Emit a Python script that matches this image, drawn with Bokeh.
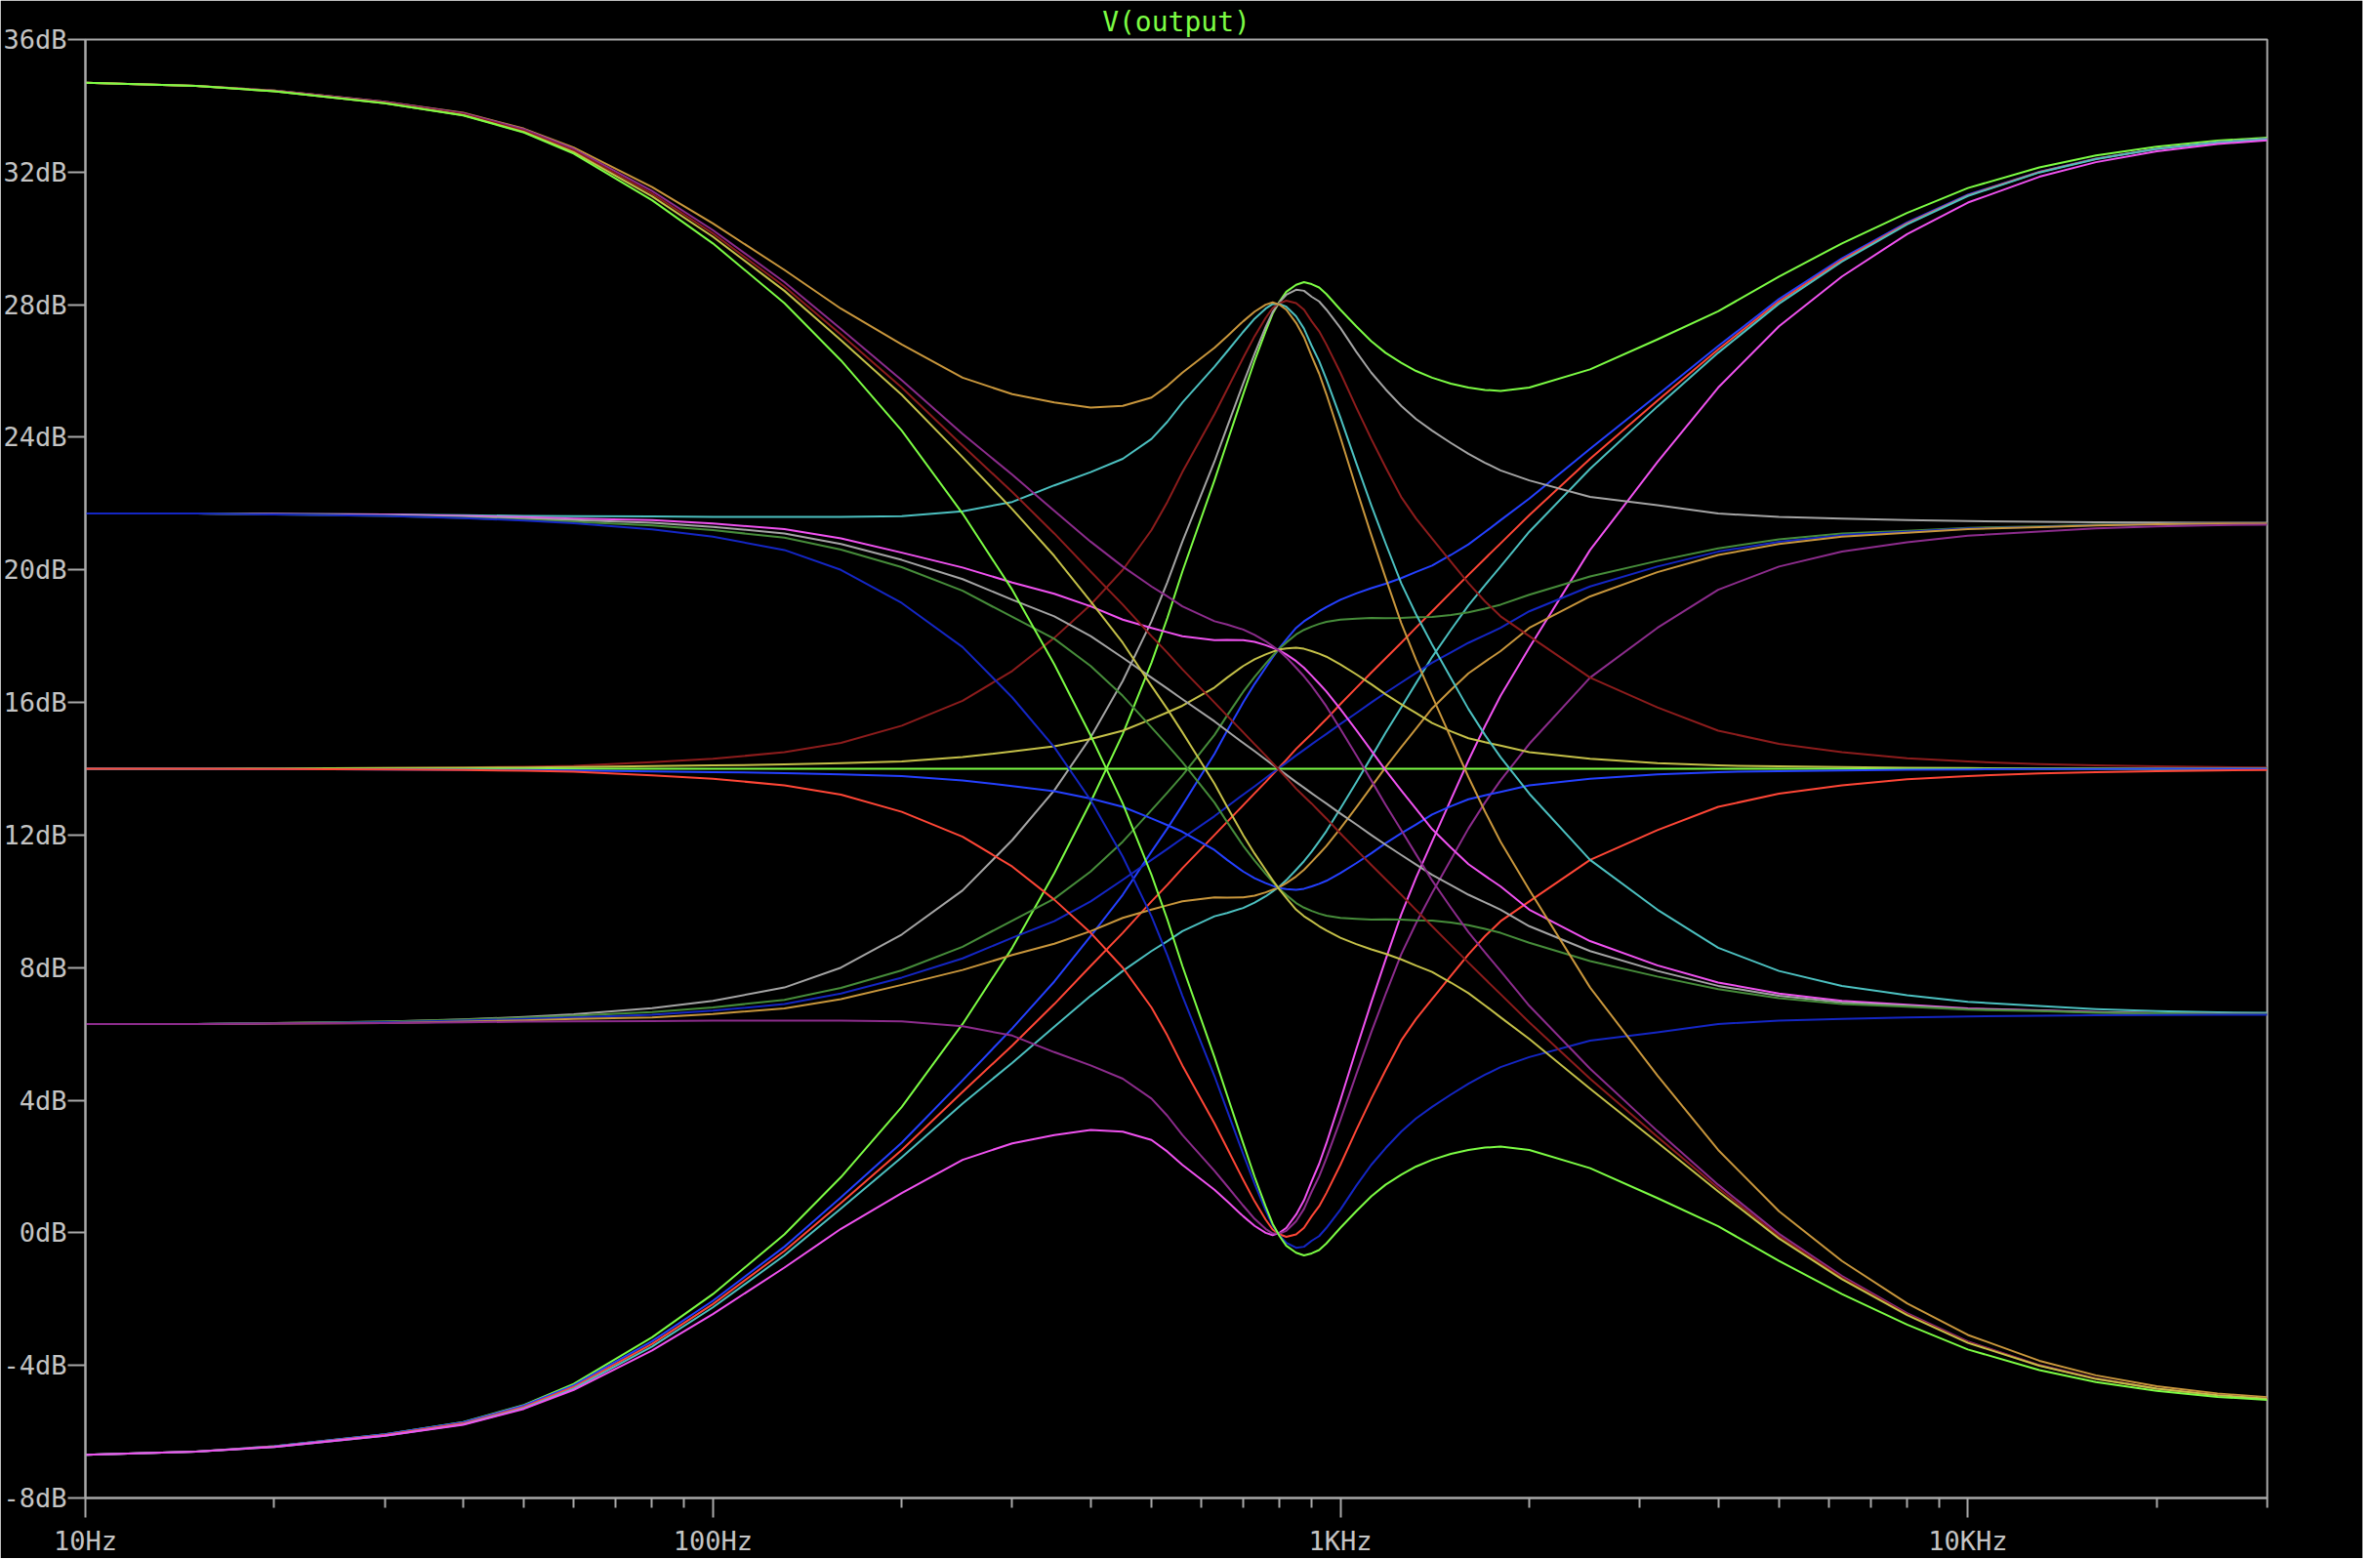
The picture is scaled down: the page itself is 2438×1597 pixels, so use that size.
from bokeh.plotting import figure
from bokeh.models import Range1d, FixedTicker, PrintfTickFormatter, CustomJSTickFormatter
from bokeh.embed import file_html
from bokeh.resources import INLINE

# ---------------- data ----------------
FREQ_HZ = [
    10, 15, 20, 30, 40, 50, 60, 80, 100,
    130, 160, 200, 250, 300, 350, 400, 450, 500,
    530, 560, 630, 660, 700, 730, 760, 780, 800,
    820, 850, 875, 900, 925, 950, 1000, 1060, 1120,
    1180, 1250, 1320, 1400, 1500, 1600, 1700, 1800, 2000,
    2500, 3200, 4000, 5000, 6300, 8000, 10000, 13000, 16000,
    20000, 25000, 30000]

# steps 1..5 : bass cut / treble boost, mid +14 .. -14 dB
step01 = [-6.7, -6.6, -6.44, -6.08, -5.71, -5.19, -4.56, -3.15, -1.85,
          -0.05, 1.68, 3.8, 6.3, 8.6, 10.85, 13.0, 15.05, 17.2,
          18.55, 19.95, 22.7, 23.85, 25.3, 26.31, 27.2, 27.73, 28.1,
          28.39, 28.6, 28.68, 28.62, 28.52, 28.32, 27.85, 27.35, 26.9,
          26.55, 26.25, 26.0, 25.8, 25.62, 25.5, 25.43, 25.4, 25.5,
          26.05, 26.95, 27.8, 28.85, 29.85, 30.77, 31.52, 32.14, 32.5,
          32.77, 32.95, 33.04]
step02 = [-6.7, -6.6, -6.44, -6.08, -5.72, -5.21, -4.6, -3.27, -2.05,
          -0.42, 1.07, 2.72, 4.6, 6.17, 7.58, 8.95, 10.2, 11.5,
          12.2, 12.9, 14.45, 15.15, 16.0, 16.56, 17.05, 17.36, 17.65,
          17.9, 18.25, 18.45, 18.6, 18.75, 18.88, 19.1, 19.29, 19.45,
          19.58, 19.75, 19.94, 20.13, 20.45, 20.77, 21.14, 21.5, 22.15,
          23.65, 25.27, 26.75, 28.17, 29.4, 30.48, 31.32, 32.01, 32.41,
          32.7, 32.9, 33.0]
step03 = [-6.7, -6.6, -6.45, -6.1, -5.75, -5.25, -4.65, -3.35, -2.15,
          -0.55, 0.9, 2.5, 4.25, 5.65, 6.9, 8.05, 9.05, 10.0,
          10.5, 11.0, 12.0, 12.4, 12.9, 13.26, 13.6, 13.83, 14.05,
          14.27, 14.6, 14.83, 15.05, 15.28, 15.5, 15.95, 16.44, 16.9,
          17.33, 17.8, 18.26, 18.75, 19.32, 19.85, 20.34, 20.8, 21.65,
          23.35, 25.1, 26.65, 28.1, 29.35, 30.45, 31.3, 32.0, 32.4,
          32.7, 32.9, 33.0]
step04 = [-6.7, -6.6, -6.46, -6.12, -5.78, -5.29, -4.7, -3.43, -2.25,
          -0.68, 0.73, 2.28, 3.9, 5.13, 6.22, 7.15, 7.9, 8.5,
          8.8, 9.1, 9.55, 9.65, 9.8, 9.96, 10.15, 10.3, 10.45,
          10.64, 10.95, 11.21, 11.5, 11.81, 12.12, 12.8, 13.59, 14.35,
          15.08, 15.85, 16.58, 17.37, 18.19, 18.93, 19.54, 20.1, 21.15,
          23.05, 24.93, 26.55, 28.03, 29.3, 30.42, 31.28, 31.99, 32.39,
          32.7, 32.9, 33.0]
step05 = [-6.7, -6.6, -6.46, -6.12, -5.79, -5.31, -4.74, -3.55, -2.45,
          -1.05, 0.12, 1.2, 2.2, 2.7, 2.95, 3.1, 3.05, 2.8,
          2.45, 2.05, 1.3, 0.95, 0.5, 0.21, 0.0, -0.07, 0.0,
          0.15, 0.55, 0.98, 1.55, 2.08, 2.7, 4.0, 5.54, 6.95,
          8.23, 9.6, 10.71, 11.8, 13.07, 14.25, 15.29, 16.2, 17.65,
          20.6, 23.25, 25.5, 27.35, 28.85, 30.13, 31.08, 31.86, 32.3,
          32.63, 32.85, 32.96]

# steps 6..10 : mild bass cut / treble boost
step06 = [6.3, 6.3, 6.33, 6.37, 6.44, 6.51, 6.59, 6.78, 7.0,
          7.4, 8.0, 9.0, 10.33, 11.85, 13.35, 14.95, 16.65, 18.45,
          19.63, 20.85, 23.27, 24.31, 25.62, 26.52, 27.32, 27.78, 28.08,
          28.3, 28.45, 28.42, 28.24, 28.1, 27.85, 27.3, 26.58, 25.95,
          25.45, 24.95, 24.55, 24.2, 23.83, 23.5, 23.23, 23.0, 22.7,
          22.2, 21.95, 21.7, 21.6, 21.55, 21.5, 21.47, 21.45, 21.44,
          21.43, 21.42, 21.42]
step07 = [6.3, 6.3, 6.33, 6.37, 6.43, 6.49, 6.55, 6.66, 6.8,
          7.03, 7.39, 7.92, 8.63, 9.42, 10.08, 10.9, 11.8, 12.75,
          13.28, 13.8, 15.02, 15.61, 16.32, 16.77, 17.17, 17.41, 17.63,
          17.81, 18.05, 18.19, 18.29, 18.37, 18.43, 18.5, 18.53, 18.55,
          18.54, 18.55, 18.57, 18.58, 18.64, 18.72, 18.83, 18.95, 19.25,
          19.8, 20.27, 20.65, 20.92, 21.1, 21.18, 21.27, 21.31, 21.36,
          21.38, 21.4, 21.4]
step08 = [6.3, 6.3, 6.32, 6.35, 6.4, 6.45, 6.5, 6.58, 6.7,
          6.9, 7.22, 7.7, 8.28, 8.9, 9.4, 10.0, 10.65, 11.25,
          11.58, 11.9, 12.57, 12.86, 13.22, 13.47, 13.72, 13.88, 14.03,
          14.18, 14.4, 14.57, 14.74, 14.9, 15.05, 15.35, 15.68, 16.0,
          16.29, 16.6, 16.89, 17.2, 17.51, 17.8, 18.03, 18.25, 18.75,
          19.5, 20.1, 20.55, 20.85, 21.05, 21.15, 21.25, 21.3, 21.35,
          21.38, 21.4, 21.4]
step09 = [6.3, 6.3, 6.31, 6.33, 6.37, 6.41, 6.45, 6.5, 6.6,
          6.77, 7.05, 7.48, 7.93, 8.38, 8.72, 9.1, 9.5, 9.75,
          9.88, 10.0, 10.12, 10.11, 10.12, 10.17, 10.27, 10.35, 10.43,
          10.55, 10.75, 10.95, 11.19, 11.43, 11.67, 12.2, 12.83, 13.45,
          14.04, 14.65, 15.21, 15.82, 16.38, 16.88, 17.23, 17.55, 18.25,
          19.2, 19.93, 20.45, 20.78, 21.0, 21.12, 21.23, 21.29, 21.34,
          21.38, 21.4, 21.4]
step10 = [6.3, 6.3, 6.31, 6.33, 6.35, 6.37, 6.38, 6.39, 6.4,
          6.4, 6.4, 6.38, 6.23, 5.95, 5.45, 5.05, 4.65, 4.05,
          3.53, 2.95, 1.87, 1.41, 0.82, 0.42, 0.12, -0.02, -0.02,
          0.06, 0.35, 0.72, 1.24, 1.7, 2.25, 3.4, 4.78, 6.05,
          7.19, 8.4, 9.34, 10.25, 11.26, 12.2, 12.98, 13.65, 14.75,
          16.75, 18.25, 19.4, 20.1, 20.55, 20.83, 21.03, 21.16, 21.25,
          21.31, 21.35, 21.36]

# steps 11..15 : flat bass / treble
step11 = [14.0, 14.0, 14.01, 14.02, 14.04, 14.06, 14.09, 14.2, 14.3,
          14.5, 14.78, 15.3, 16.05, 16.95, 17.95, 18.95, 20.0, 21.2,
          22.05, 22.95, 24.7, 25.45, 26.4, 27.05, 27.6, 27.9, 28.05,
          28.12, 28.05, 27.85, 27.5, 27.2, 26.8, 25.95, 24.9, 23.95,
          23.1, 22.2, 21.55, 20.95, 20.25, 19.6, 19.05, 18.6, 18.0,
          16.75, 15.85, 15.15, 14.75, 14.5, 14.32, 14.22, 14.14, 14.1,
          14.07, 14.05, 14.04]
step12 = [14.0, 14.0, 14.01, 14.02, 14.03, 14.04, 14.05, 14.08, 14.1,
          14.13, 14.17, 14.22, 14.35, 14.52, 14.68, 14.9, 15.15, 15.5,
          15.7, 15.9, 16.45, 16.75, 17.1, 17.3, 17.45, 17.53, 17.6,
          17.63, 17.65, 17.62, 17.55, 17.47, 17.38, 17.15, 16.85, 16.55,
          16.25, 15.95, 15.68, 15.38, 15.13, 14.92, 14.8, 14.7, 14.5,
          14.3, 14.17, 14.1, 14.07, 14.05, 14.03, 14.02, 14.01, 14.01,
          14.0, 14.0, 14.0]
step13 = [14.0, 14.0, 14.0, 14.0, 14.0, 14.0, 14.0, 14.0, 14.0,
          14.0, 14.0, 14.0, 14.0, 14.0, 14.0, 14.0, 14.0, 14.0,
          14.0, 14.0, 14.0, 14.0, 14.0, 14.0, 14.0, 14.0, 14.0,
          14.0, 14.0, 14.0, 14.0, 14.0, 14.0, 14.0, 14.0, 14.0,
          14.0, 14.0, 14.0, 14.0, 14.0, 14.0, 14.0, 14.0, 14.0,
          14.0, 14.0, 14.0, 14.0, 14.0, 14.0, 14.0, 14.0, 14.0,
          14.0, 14.0, 14.0]
step14 = [14.0, 14.0, 13.99, 13.98, 13.97, 13.96, 13.95, 13.92, 13.9,
          13.87, 13.83, 13.78, 13.65, 13.48, 13.32, 13.1, 12.85, 12.5,
          12.3, 12.1, 11.55, 11.25, 10.9, 10.7, 10.55, 10.47, 10.4,
          10.37, 10.35, 10.38, 10.45, 10.53, 10.62, 10.85, 11.15, 11.45,
          11.75, 12.05, 12.32, 12.62, 12.87, 13.08, 13.2, 13.3, 13.5,
          13.7, 13.83, 13.9, 13.93, 13.95, 13.97, 13.98, 13.99, 13.99,
          14.0, 14.0, 14.0]
step15 = [14.0, 14.0, 13.99, 13.98, 13.96, 13.94, 13.91, 13.8, 13.7,
          13.5, 13.22, 12.7, 11.95, 11.05, 10.05, 9.05, 8.0, 6.8,
          5.95, 5.05, 3.3, 2.55, 1.6, 0.95, 0.4, 0.1, -0.05,
          -0.12, -0.05, 0.15, 0.5, 0.8, 1.2, 2.05, 3.1, 4.05,
          4.9, 5.8, 6.45, 7.05, 7.75, 8.4, 8.95, 9.4, 10.0,
          11.25, 12.15, 12.85, 13.25, 13.5, 13.68, 13.78, 13.86, 13.9,
          13.93, 13.95, 13.96]

# steps 16..20 : mild bass boost / treble cut
step16 = [21.7, 21.7, 21.69, 21.67, 21.65, 21.63, 21.62, 21.61, 21.6,
          21.6, 21.6, 21.62, 21.77, 22.05, 22.55, 22.95, 23.35, 23.95,
          24.47, 25.05, 26.13, 26.59, 27.18, 27.58, 27.88, 28.02, 28.02,
          27.94, 27.65, 27.28, 26.76, 26.3, 25.75, 24.6, 23.22, 21.95,
          20.81, 19.6, 18.66, 17.75, 16.74, 15.8, 15.02, 14.35, 13.25,
          11.25, 9.75, 8.6, 7.9, 7.45, 7.17, 6.97, 6.84, 6.75,
          6.69, 6.65, 6.64]
step17 = [21.7, 21.7, 21.69, 21.67, 21.63, 21.59, 21.55, 21.5, 21.4,
          21.23, 20.95, 20.52, 20.07, 19.62, 19.28, 18.9, 18.5, 18.25,
          18.12, 18.0, 17.88, 17.89, 17.88, 17.83, 17.73, 17.65, 17.57,
          17.45, 17.25, 17.05, 16.81, 16.57, 16.33, 15.8, 15.17, 14.55,
          13.96, 13.35, 12.79, 12.18, 11.62, 11.12, 10.77, 10.45, 9.75,
          8.8, 8.07, 7.55, 7.22, 7.0, 6.88, 6.77, 6.71, 6.66,
          6.62, 6.6, 6.6]
step18 = [21.7, 21.7, 21.68, 21.65, 21.6, 21.55, 21.5, 21.42, 21.3,
          21.1, 20.78, 20.3, 19.72, 19.1, 18.6, 18.0, 17.35, 16.75,
          16.42, 16.1, 15.43, 15.14, 14.78, 14.53, 14.28, 14.12, 13.97,
          13.82, 13.6, 13.43, 13.26, 13.1, 12.95, 12.65, 12.32, 12.0,
          11.71, 11.4, 11.11, 10.8, 10.49, 10.2, 9.97, 9.75, 9.25,
          8.5, 7.9, 7.45, 7.15, 6.95, 6.85, 6.75, 6.7, 6.65,
          6.62, 6.6, 6.6]
step19 = [21.7, 21.7, 21.67, 21.63, 21.57, 21.51, 21.45, 21.34, 21.2,
          20.97, 20.61, 20.08, 19.37, 18.58, 17.92, 17.1, 16.2, 15.25,
          14.72, 14.2, 12.98, 12.39, 11.68, 11.23, 10.83, 10.59, 10.37,
          10.19, 9.95, 9.81, 9.71, 9.63, 9.57, 9.5, 9.47, 9.45,
          9.46, 9.45, 9.43, 9.42, 9.36, 9.28, 9.17, 9.05, 8.75,
          8.2, 7.73, 7.35, 7.08, 6.9, 6.82, 6.73, 6.69, 6.64,
          6.62, 6.6, 6.6]
step20 = [21.7, 21.7, 21.67, 21.63, 21.56, 21.49, 21.41, 21.22, 21.0,
          20.6, 20.0, 19.0, 17.67, 16.15, 14.65, 13.05, 11.35, 9.55,
          8.37, 7.15, 4.73, 3.69, 2.38, 1.48, 0.68, 0.22, -0.08,
          -0.3, -0.45, -0.42, -0.24, -0.1, 0.15, 0.7, 1.42, 2.05,
          2.55, 3.05, 3.45, 3.8, 4.17, 4.5, 4.77, 5.0, 5.3,
          5.8, 6.05, 6.3, 6.4, 6.45, 6.5, 6.53, 6.55, 6.56,
          6.57, 6.58, 6.58]

# steps 21..25 : bass boost / treble cut
step21 = [34.7, 34.6, 34.46, 34.12, 33.79, 33.31, 32.74, 31.55, 30.45,
          29.05, 27.88, 26.8, 25.8, 25.3, 25.05, 24.9, 24.95, 25.2,
          25.55, 25.95, 26.7, 27.05, 27.5, 27.79, 28.0, 28.07, 28.0,
          27.85, 27.45, 27.02, 26.45, 25.92, 25.3, 24.0, 22.46, 21.05,
          19.77, 18.4, 17.29, 16.2, 14.93, 13.75, 12.71, 11.8, 10.35,
          7.4, 4.75, 2.5, 0.65, -0.85, -2.13, -3.08, -3.86, -4.3,
          -4.63, -4.85, -4.96]
step22 = [34.7, 34.6, 34.46, 34.12, 33.78, 33.29, 32.7, 31.43, 30.25,
          28.68, 27.27, 25.72, 24.1, 22.87, 21.78, 20.85, 20.1, 19.5,
          19.2, 18.9, 18.45, 18.35, 18.2, 18.04, 17.85, 17.7, 17.55,
          17.36, 17.05, 16.79, 16.5, 16.19, 15.88, 15.2, 14.41, 13.65,
          12.92, 12.15, 11.42, 10.63, 9.81, 9.07, 8.46, 7.9, 6.85,
          4.95, 3.07, 1.45, -0.03, -1.3, -2.42, -3.28, -3.99, -4.39,
          -4.7, -4.9, -5.0]
step23 = [34.7, 34.6, 34.45, 34.1, 33.75, 33.25, 32.65, 31.35, 30.15,
          28.55, 27.1, 25.5, 23.75, 22.35, 21.1, 19.95, 18.95, 18.0,
          17.5, 17.0, 16.0, 15.6, 15.1, 14.74, 14.4, 14.17, 13.95,
          13.73, 13.4, 13.17, 12.95, 12.72, 12.5, 12.05, 11.56, 11.1,
          10.67, 10.2, 9.74, 9.25, 8.68, 8.15, 7.66, 7.2, 6.35,
          4.65, 2.9, 1.35, -0.1, -1.35, -2.45, -3.3, -4.0, -4.4,
          -4.7, -4.9, -5.0]
step24 = [34.7, 34.6, 34.44, 34.08, 33.72, 33.21, 32.6, 31.27, 30.05,
          28.42, 26.93, 25.28, 23.4, 21.83, 20.42, 19.05, 17.8, 16.5,
          15.8, 15.1, 13.55, 12.85, 12.0, 11.44, 10.95, 10.64, 10.35,
          10.1, 9.75, 9.55, 9.4, 9.25, 9.12, 8.9, 8.71, 8.55,
          8.42, 8.25, 8.06, 7.87, 7.55, 7.23, 6.86, 6.5, 5.85,
          4.35, 2.73, 1.25, -0.17, -1.4, -2.48, -3.32, -4.01, -4.41,
          -4.7, -4.9, -5.0]
step25 = [34.7, 34.6, 34.44, 34.08, 33.71, 33.19, 32.56, 31.15, 29.85,
          28.05, 26.32, 24.2, 21.7, 19.4, 17.15, 15.0, 12.95, 10.8,
          9.45, 8.05, 5.3, 4.15, 2.7, 1.69, 0.8, 0.27, -0.1,
          -0.39, -0.6, -0.68, -0.62, -0.52, -0.32, 0.15, 0.65, 1.1,
          1.45, 1.75, 2.0, 2.2, 2.38, 2.5, 2.57, 2.6, 2.5,
          1.95, 1.05, 0.2, -0.85, -1.85, -2.77, -3.52, -4.14, -4.5,
          -4.77, -4.95, -5.04]

STEPS = [step01, step02, step03, step04, step05, step06, step07, step08, step09, step10,
         step11, step12, step13, step14, step15, step16, step17, step18, step19, step20,
         step21, step22, step23, step24, step25]

Y_TICKS = [-8, -4, 0, 4, 8, 12, 16, 20, 24, 28, 32, 36]
X_MAJOR = [10, 100, 1000, 10000]
X_MINOR = [20, 30, 40, 50, 60, 70, 80, 90,
           200, 300, 400, 500, 600, 700, 800, 900,
           2000, 3000, 4000, 5000, 6000, 7000, 8000, 9000,
           20000, 30000]
TITLE = "V(output)"

# ---------------- styling ----------------
PALETTE = ["#7cfc44", "#2440ff", "#ff4636", "#4cc0c0", "#f052f0", "#a4a4a4",
           "#468c3a", "#1426c4", "#c8963c", "#8c2c8c", "#8c1c1c", "#c4c048"]
AXIS_COL = "#a8a8a8"
LABEL_COL = "#c4c4c4"
FONT = "DejaVu Sans Mono"

p = figure(x_axis_type="log", x_range=Range1d(10, 30000), y_range=Range1d(-8, 36),
           width=2420, height=1596,
           min_border_left=87, min_border_right=98, min_border_top=40, min_border_bottom=59,
           output_backend="svg", toolbar_location=None,
           background_fill_color="black", border_fill_color="black")
p.title.text = TITLE
p.title.align = "center"
p.title.text_color = PALETTE[0]
p.title.text_font = FONT
p.title.text_font_size = "28px"
p.title.text_font_style = "normal"
p.title.standoff = 3
p.outline_line_color = AXIS_COL
p.outline_line_width = 2
p.grid.visible = False

for i, ys in enumerate(STEPS):
    p.line(FREQ_HZ, ys, line_color=PALETTE[i % len(PALETTE)], line_width=2, line_join="round")

xa = p.xaxis[0]
xa.ticker = FixedTicker(ticks=X_MAJOR, minor_ticks=X_MINOR)
xa.formatter = CustomJSTickFormatter(code="""
    const v = Math.round(tick);
    return v >= 1000 ? (v / 1000) + 'KHz' : v + 'Hz';
""")
xa.major_tick_out = 20
xa.major_tick_in = 0
xa.minor_tick_out = 10
xa.minor_tick_in = 0
xa.major_label_standoff = 8

ya = p.yaxis[0]
ya.ticker = FixedTicker(ticks=Y_TICKS, minor_ticks=[])
ya.formatter = PrintfTickFormatter(format="%ddB")
ya.major_tick_out = 18
ya.major_tick_in = 0
ya.minor_tick_out = 0
ya.minor_tick_in = 0
ya.major_label_standoff = 1

for ax in (xa, ya):
    ax.axis_line_color = AXIS_COL
    ax.axis_line_width = 2
    ax.major_tick_line_color = AXIS_COL
    ax.major_tick_line_width = 2
    ax.minor_tick_line_color = AXIS_COL
    ax.minor_tick_line_width = 2
    ax.major_label_text_color = LABEL_COL
    ax.major_label_text_font = FONT
    ax.major_label_text_font_size = "27px"

html = file_html(p, INLINE)
html = html.replace("<body>", '<body style="background-color:#000000;">', 1)
open("out.html", "w").write(html)
